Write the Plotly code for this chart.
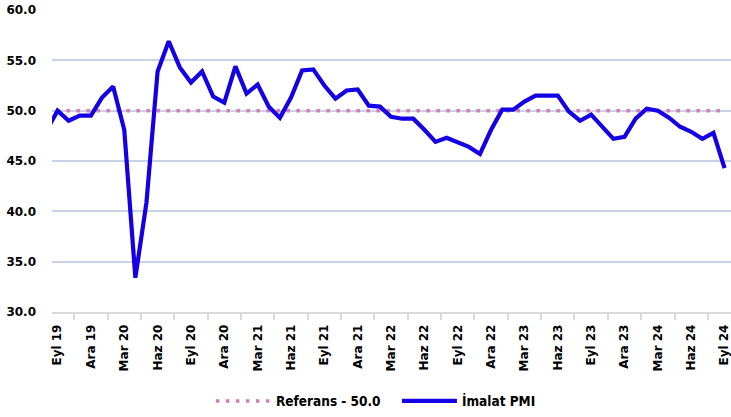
import plotly.graph_objects as go

# monthly manufacturing PMI, Aug 2019 .. Sep 2024 (first point sits just off the left edge)
months = list(range(-1, 61))
pmi = [48.0,
       50.0, 49.0, 49.5, 49.5, 51.3, 52.4, 48.1, 33.4, 40.9, 53.9, 56.9, 54.3,
       52.8, 53.9, 51.4, 50.8, 54.4, 51.7, 52.6, 50.4, 49.3, 51.3, 54.0, 54.1,
       52.5, 51.2, 52.0, 52.1, 50.5, 50.4, 49.4, 49.2, 49.2, 48.1, 46.9, 47.3,
       46.9, 46.4, 45.7, 48.1, 50.1, 50.1, 50.9, 51.5, 51.5, 51.5, 49.9, 49.0,
       49.6, 48.4, 47.2, 47.4, 49.2, 50.2, 50.0, 49.3, 48.4, 47.9, 47.2, 47.8,
       44.3]
reference = [50.0] * len(months)

tick_pos = list(range(0, 61, 3))
tick_labels = ["Eyl 19", "Ara 19", "Mar 20", "Haz 20", "Eyl 20", "Ara 20", "Mar 21",
               "Haz 21", "Eyl 21", "Ara 21", "Mar 22", "Haz 22", "Eyl 22", "Ara 22",
               "Mar 23", "Haz 23", "Eyl 23", "Ara 23", "Mar 24", "Haz 24", "Eyl 24"]

fig = go.Figure()
fig.add_trace(go.Scatter(x=months, y=reference, mode="lines", name="Referans - 50.0",
                         line=dict(color="#d67db4", width=3.5, dash="3.5px,6.5px")))
fig.add_trace(go.Scatter(x=months, y=pmi, mode="lines", name="İmalat PMI",
                         line=dict(color="#1500e6", width=4.2)))

fig.update_layout(
    width=731, height=417,
    margin=dict(l=52, r=0, t=10, b=105),
    paper_bgcolor="white", plot_bgcolor="white",
    font=dict(family="DejaVu Sans", color="black", size=12),
    showlegend=True,
    legend=dict(orientation="h", xref="container", yref="container",
                x=0.543, y=0.038, xanchor="center", yanchor="middle",
                itemwidth=55, entrywidth=116,
                font=dict(family="DejaVu Sans Condensed, DejaVu Sans", size=13.5, weight="bold"),
                traceorder="normal"),
)
fig.update_xaxes(
    range=[-0.5, 60.58], tickmode="array", tickvals=tick_pos, ticktext=tick_labels,
    tickangle=-90, ticks="", showgrid=False, zeroline=False, automargin=False,
    showline=True, linecolor="#d9d9d9", linewidth=1.5, ticklabeloverflow="allow",
    tickfont=dict(size=12, weight="bold"), ticklabelstandoff=6,
    minor=dict(tickmode="array", tickvals=[p - 1.5 for p in tick_pos],
               ticks="outside", ticklen=6, tickcolor="#d9d9d9", tickwidth=1.5,
               showgrid=False),
)
fig.update_yaxes(
    range=[30, 60], dtick=5, tickformat=".1f", showgrid=True, automargin=False,
    gridcolor="#c9d2e6", gridwidth=1.5, zeroline=False, showline=False,
    tickfont=dict(size=12, weight="bold"), ticklabelstandoff=15,
)

# page has a default 8px body margin; drop it so the figure sits at the window corner
fig.write_html("out.html", config={"displayModeBar": False},
               post_script="document.body.style.margin='0';")
